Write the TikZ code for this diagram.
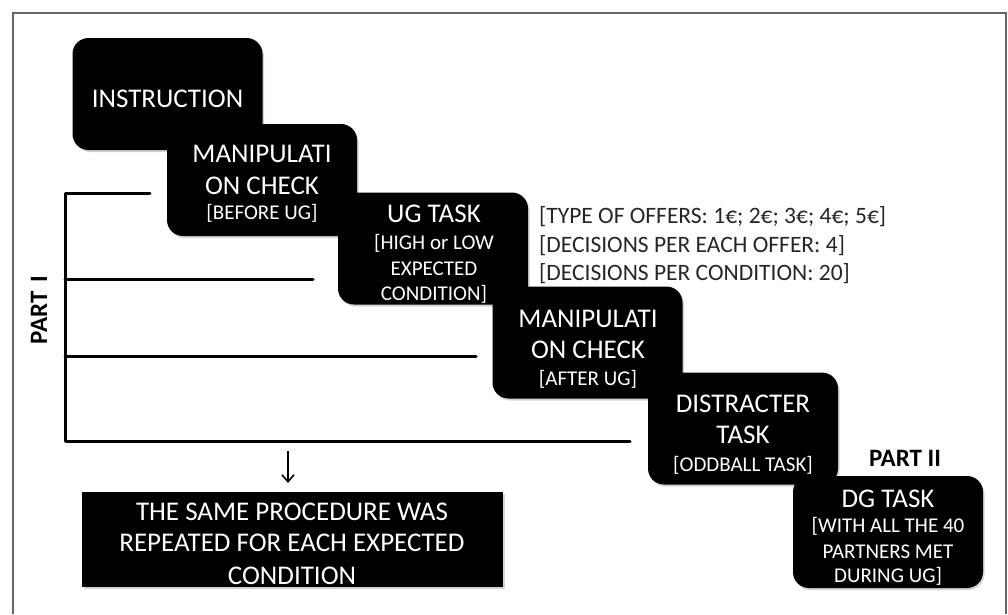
\documentclass[tikz,border=0pt]{standalone}
\usepackage{fontspec}
\setmainfont{Carlito}
\usetikzlibrary{shadows,arrows.meta}
\newcommand{\bigtxt}{\fontsize{27}{30}\selectfont}
\newcommand{\subtxt}{\fontsize{21}{25}\selectfont}
\newcommand{\infotxt}{\fontsize{23.5}{28}\selectfont}
\newcommand{\parttxt}{\fontsize{25}{30}\selectfont\bfseries}
\tikzset{
  stepbox/.style={fill=black, rounded corners=16pt, inner sep=0pt,
    minimum width=190pt, minimum height=112pt,
    drop shadow={opacity=0.35, shadow xshift=1.5pt, shadow yshift=-2pt}},
  notebox/.style={fill=black, inner sep=0pt, minimum width=421pt, minimum height=95pt,
    drop shadow={opacity=0.35, shadow xshift=1.5pt, shadow yshift=-2pt}},
  big/.style={text=white, font=\bigtxt, inner sep=0pt, anchor=base},
  small/.style={text=white, font=\subtxt, inner sep=0pt, anchor=base},
  info/.style={text=black!85, font=\infotxt, inner sep=0pt, anchor=base west},
  partlabel/.style={text=black, font=\parttxt, inner sep=0pt},
  bracketline/.style={line width=3pt, line cap=round, line join=round},
  framel/.style={draw=black!60, line width=1.2pt}
}
\begin{document}
\begin{tikzpicture}[x=1pt, y=-1pt]
\useasboundingbox (0,0) rectangle (1008,614);
% outer frame
\coordinate (f1) at (13,614);
\coordinate (f2) at (13,13);
\coordinate (f3) at (1006,13);
\coordinate (f4) at (1006,614);
\draw[framel] (f1) -- (f2) -- (f3) -- (f4);

% step boxes
\node[stepbox] (b1) at (167.5,94) {};
\node[stepbox] (b2) at (262,180) {};
\node[stepbox] (b3) at (433,248.5) {};
\node[stepbox] (b4) at (587.5,342.5) {};
\node[stepbox] (b5) at (743,428.5) {};
\node[stepbox] (b6) at (888,532) {};

% texts in boxes
\node[big] (b1a) at (167.5,107) {INSTRUCTION};

\node[big] (b2a) at (262,162) {MANIPULATI};
\node[big] (b2b) at (262,194) {ON CHECK};
\node[small] (b2c) at (262,219) {[BEFORE UG]};

\node[big] (b3a) at (434,222) {UG TASK};
\node[small] (b3b) at (434,249) {[HIGH or LOW};
\node[small] (b3c) at (434,275) {EXPECTED};
\node[small] (b3d) at (434,300) {CONDITION]};

\node[big] (b4a) at (588,327) {MANIPULATI};
\node[big] (b4b) at (588,358) {ON CHECK};
\node[small] (b4c) at (588,385) {[AFTER UG]};

\node[big] (b5a) at (743,412) {DISTRACTER};
\node[big] (b5b) at (743,443) {TASK};
\node[small] (b5c) at (743,471) {[ODDBALL TASK]};

\node[big] (b6a) at (888,507) {DG TASK};
\node[small] (b6b) at (888,532) {[WITH ALL THE 40};
\node[small] (b6c) at (888,558) {PARTNERS MET};
\node[small] (b6d) at (888,582) {DURING UG]};

% info text
\node[info] (i1) at (539,223) {[TYPE OF OFFERS: 1€; 2€; 3€; 4€; 5€]};
\node[info] (i2) at (539,252) {[DECISIONS PER EACH OFFER: 4]};
\node[info] (i3) at (539,280) {[DECISIONS PER CONDITION: 20]};

% part labels
\node[partlabel, anchor=base] (p2) at (905,466) {PART II};
\node[partlabel, rotate=90, anchor=base] (p1) at (47,310) {PART\hspace{9pt}I};

% bracket of part I
\coordinate (k0) at (65,193);
\coordinate (k1) at (65,279);
\coordinate (k2) at (65,356);
\coordinate (k3) at (65,441);
\coordinate (e0) at (150,193);
\coordinate (e1) at (313,279);
\coordinate (e2) at (476,356);
\coordinate (e3) at (630,441);
\draw[bracketline] (e0) -- (k0) -- (k3) -- (e3);
\draw[bracketline] (k1) -- (e1);
\draw[bracketline] (k2) -- (e2);

% repeated-procedure note
\node[notebox] (n) at (292.5,539.5) {};
\node[big] (na) at (292,520) {THE SAME PROCEDURE WAS};
\node[big] (nb) at (292,551) {REPEATED FOR EACH EXPECTED};
\node[big] (nc) at (292,584) {CONDITION};

% arrow
\coordinate (a0) at (288,451);
\coordinate (a1) at (288,483);
\draw[line width=1.6pt, -{Straight Barb[length=7pt,width=12pt,line width=1.6pt]}] (a0) -- (a1);
\end{tikzpicture}
\end{document}
